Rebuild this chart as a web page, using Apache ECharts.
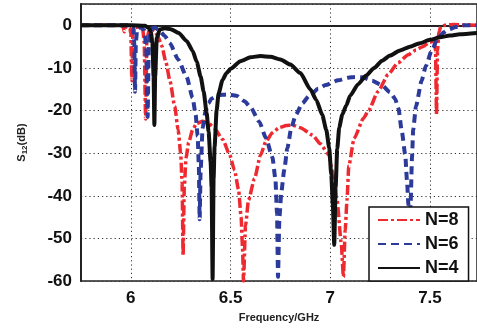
<!DOCTYPE html>
<html>
<head>
<meta charset="utf-8">
<script src="https://cdn.jsdelivr.net/npm/echarts@6/dist/echarts.min.js"></script>
<style>
  html, body { margin: 0; padding: 0; background: #fff; }
  #main { width: 477px; height: 328px; }
</style>
</head>
<body>
<div id="main"></div>
<script>
// tick positions
var xTicks = [6, 6.5, 7, 7.5];

// N=8 (red dash-dot)
var n8Freq = [5.75, 5.955, 5.962, 5.967, 5.972, 5.98, 5.995, 6.0, 6.005, 6.01, 6.02, 6.04, 6.06, 6.067, 6.074, 6.08, 6.09, 6.105, 6.12, 6.135, 6.155, 6.175, 6.196, 6.22, 6.237, 6.25, 6.257, 6.262, 6.268, 6.277, 6.29, 6.31, 6.33, 6.36, 6.39, 6.42, 6.461, 6.495, 6.52, 6.54, 6.553, 6.56, 6.565, 6.575, 6.59, 6.62, 6.65, 6.678, 6.71, 6.744, 6.78, 6.81, 6.85, 6.91, 6.95, 6.993, 7.009, 7.034, 7.055, 7.066, 7.075, 7.084, 7.093, 7.12, 7.167, 7.192, 7.24, 7.291, 7.34, 7.391, 7.43, 7.46, 7.5, 7.52, 7.528, 7.533, 7.538, 7.545, 7.555, 7.58, 7.62, 7.67, 7.736];
var n8Db = [0, 0, -0.6, -1.5, -0.6, -0.2, -0.6, -2, -13, -2, -0.5, -0.4, -1, -4, -22, -4, -1.2, -0.8, -1.3, -2.5, -4.8, -8.5, -13, -19, -24.5, -30, -37, -54, -38, -31, -27.5, -24.5, -23, -22.5, -23, -24.2, -26.8, -30.3, -34, -38.5, -45, -52, -60, -47, -41, -36, -30.5, -27.2, -25.2, -24, -23.5, -23.4, -24, -25.7, -27.8, -30.3, -34, -41, -51, -59, -48, -41, -33, -26.5, -21.8, -20, -15.5, -11.5, -8.8, -6.9, -5.8, -5.1, -4, -3.4, -6, -21, -6, -1.5, -0.3, 0.1, 0.2, 0.1, 0];

// N=6 (blue dashed)
var n6Freq = [5.75, 6.0, 6.012, 6.017, 6.021, 6.025, 6.032, 6.05, 6.068, 6.077, 6.084, 6.09, 6.1, 6.12, 6.146, 6.17, 6.196, 6.237, 6.279, 6.31, 6.325, 6.335, 6.341, 6.345, 6.35, 6.36, 6.375, 6.39, 6.404, 6.44, 6.48, 6.53, 6.57, 6.6, 6.644, 6.678, 6.71, 6.725, 6.733, 6.738, 6.745, 6.755, 6.769, 6.785, 6.805, 6.827, 6.86, 6.893, 6.94, 6.977, 7.04, 7.09, 7.125, 7.16, 7.21, 7.26, 7.3, 7.325, 7.342, 7.359, 7.376, 7.385, 7.392, 7.397, 7.403, 7.41, 7.416, 7.43, 7.458, 7.48, 7.508, 7.541, 7.57, 7.591, 7.63, 7.674, 7.736];
var n6Db = [0, 0, -0.5, -4, -15.6, -4, -0.8, -0.4, -1.2, -5, -21.5, -5, -1, -0.5, -1.4, -2.5, -4.2, -8, -12, -17, -21, -26, -33, -45.5, -34, -24, -20, -18.3, -17.2, -16.4, -16.2, -16.5, -17.8, -19.2, -22.6, -26.5, -31, -36, -44, -59, -45, -39, -34, -28.8, -24, -21, -18.3, -16.6, -14.9, -14, -12.9, -12.3, -12.1, -12.2, -13, -14.1, -15.7, -17.2, -19.5, -24.9, -30.3, -36.5, -42, -56, -42, -31, -24.5, -19, -13, -9.5, -6, -2.9, -1.6, -1, -0.4, 0, 0];

// N=4 (black solid)
var n4Freq = [5.75, 6.0, 6.07, 6.09, 6.1, 6.108, 6.114, 6.118, 6.122, 6.13, 6.145, 6.17, 6.2, 6.24, 6.28, 6.31, 6.33, 6.35, 6.365, 6.38, 6.39, 6.4, 6.405, 6.41, 6.415, 6.42, 6.43, 6.44, 6.46, 6.48, 6.5, 6.55, 6.6, 6.65, 6.7, 6.75, 6.8, 6.85, 6.9, 6.93, 6.96, 6.98, 6.995, 7.005, 7.013, 7.02, 7.027, 7.035, 7.045, 7.06, 7.08, 7.1, 7.14, 7.18, 7.22, 7.26, 7.3, 7.35, 7.4, 7.45, 7.5, 7.55, 7.6, 7.65, 7.736];
var n4Db = [0, 0, -0.1, -0.6, -1.5, -4, -12, -23.4, -12, -3, -1, -0.7, -0.9, -1.8, -3.7, -6, -8.5, -12, -15.5, -20.5, -25, -32, -38, -59.5, -36, -28.5, -20, -16, -12.8, -11.2, -10.2, -8.4, -7.5, -7.2, -7.4, -8, -9.2, -11.2, -15, -17.5, -21, -24.5, -28.8, -35, -42, -51.5, -38, -29, -24, -21, -18.8, -16.5, -13.8, -11.8, -10, -8.3, -7.1, -5.9, -5, -4.2, -3.4, -2.8, -2.4, -2.1, -1.8];

function pairs(xs, ys) {
  return xs.map(function (x, i) { return [x, ys[i]]; });
}

var chart = echarts.init(document.getElementById('main'));

var labelFont = { color: '#111', fontFamily: 'Liberation Sans', fontWeight: 'bold' };

var option = {
  animation: false,
  backgroundColor: '#fff',
  grid: {
    left: 81, top: 4, right: -2, bottom: 43,
    show: true, borderColor: '#222', borderWidth: 1.5
  },
  legend: {
    orient: 'vertical',
    left: 369, top: 207,
    data: ['N=8', 'N=6', 'N=4'],
    backgroundColor: '#fff',
    borderColor: '#111', borderWidth: 1.5,
    padding: [4, 10, 4, 8],
    itemGap: 6,
    itemWidth: 42, itemHeight: 14,
    itemStyle: { opacity: 0 },
    textStyle: { color: '#111', fontFamily: 'Liberation Sans', fontWeight: 'bold', fontSize: 18, lineHeight: 18 }
  },
  xAxis: {
    type: 'value',
    min: 5.75, max: 7.736,
    name: 'Frequency/GHz',
    nameLocation: 'middle',
    nameGap: 24,
    nameTextStyle: { color: '#222', fontFamily: 'Liberation Sans', fontWeight: 'bold', fontSize: 11 },
    axisLine: { lineStyle: { color: '#222', width: 2 } },
    axisTick: { show: false, customValues: xTicks },
    axisLabel: Object.assign({ fontSize: 17, margin: 9, customValues: xTicks }, labelFont),
    splitLine: { show: true, lineStyle: { color: '#333', width: 1, type: [1.2, 3] } }
  },
  yAxis: {
    type: 'value',
    min: -60, max: 5, interval: 10,
    name: 'S{sub|12}(dB)',
    nameLocation: 'middle',
    nameRotate: 90,
    nameGap: 52,
    nameTextStyle: {
      color: '#222', fontFamily: 'Liberation Sans', fontWeight: 'bold', fontSize: 11,
      rich: { sub: { fontSize: 8, fontWeight: 'bold', fontFamily: 'Liberation Sans', color: '#222', verticalAlign: 'bottom', padding: [6, 0, 0, 0] } }
    },
    axisLine: { lineStyle: { color: '#222', width: 2 } },
    axisTick: { show: false },
    axisLabel: Object.assign({ fontSize: 17, margin: 9, showMaxLabel: false }, labelFont),
    splitLine: { show: true, lineStyle: { color: '#333', width: 1, type: [1.2, 3] } }
  },
  series: [
    {
      name: 'N=8', type: 'line', data: pairs(n8Freq, n8Db),
      symbol: 'none', smooth: 0.2, smoothMonotone: 'x', z: 2,
      lineStyle: { color: '#ee2a30', width: 3.5, type: [10, 3, 3, 3] },
      itemStyle: { color: '#ee2a30' }
    },
    {
      name: 'N=6', type: 'line', data: pairs(n6Freq, n6Db),
      symbol: 'none', smooth: 0.2, smoothMonotone: 'x', z: 3,
      lineStyle: { color: '#2b3a9b', width: 4, type: [8, 5] },
      itemStyle: { color: '#2b3a9b' }
    },
    {
      name: 'N=4', type: 'line', data: pairs(n4Freq, n4Db),
      symbol: 'none', smooth: 0.2, smoothMonotone: 'x', z: 4,
      lineStyle: { color: '#111', width: 4 },
      itemStyle: { color: '#111' }
    }
  ]
};

chart.setOption(option);
</script>
</body>
</html>
